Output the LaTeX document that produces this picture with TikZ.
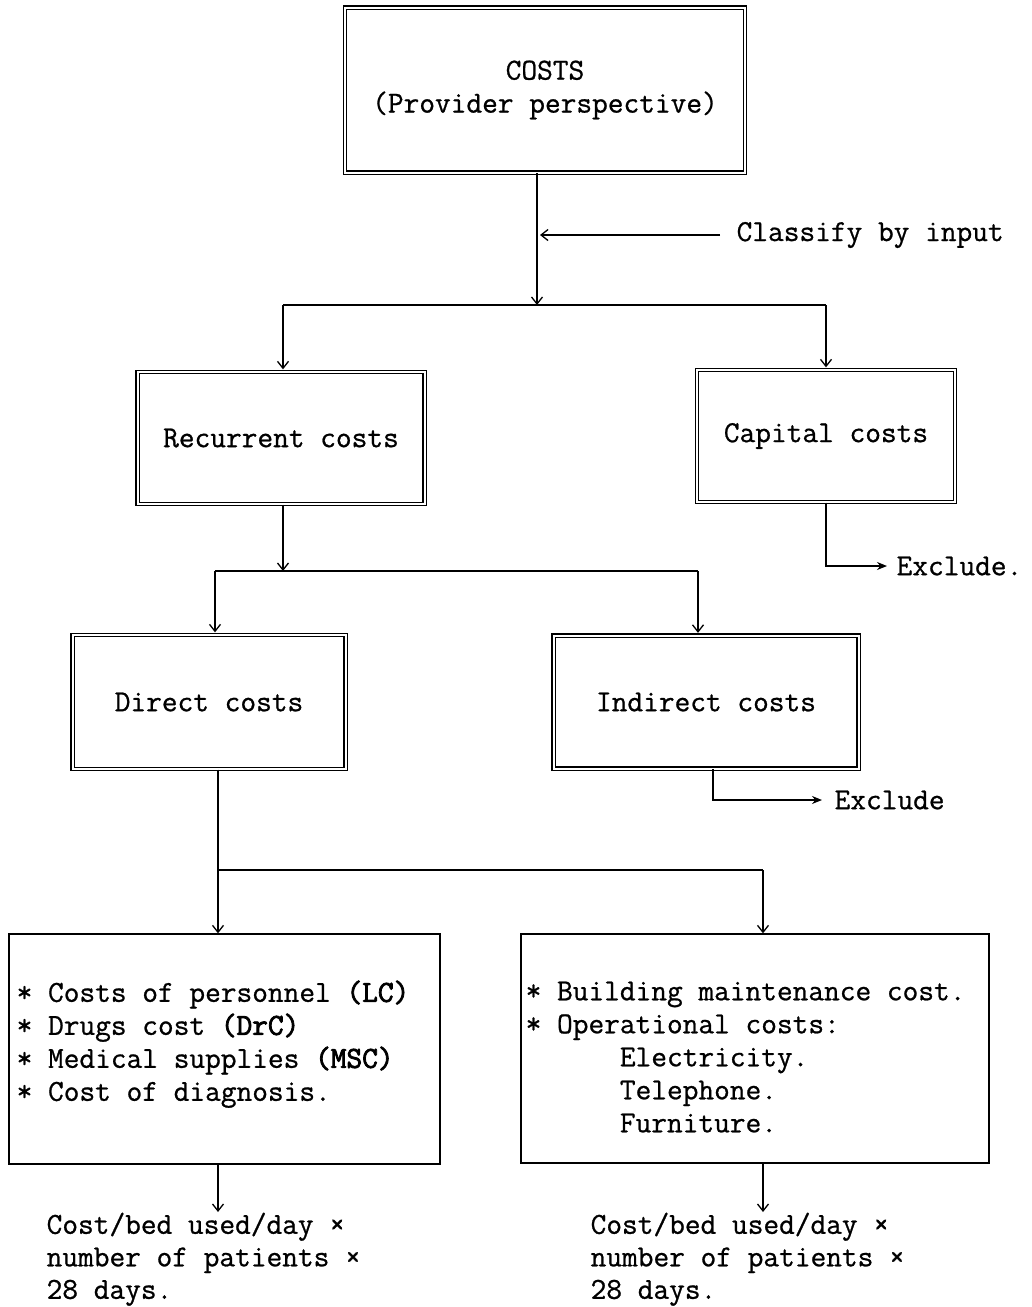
\documentclass[tikz,border=0pt]{standalone}
\usepackage{fontspec}
\newfontfamily\costtt{Latin Modern Mono}[FakeBold=0.8,BoldFont={Latin Modern Mono},BoldFeatures={FakeBold=2.6}]
\usetikzlibrary{arrows.meta}
\newcommand\costfont{\costtt\fontsize{30.5}{33}\selectfont}
\tikzset{
  cbox/.style={draw,line width=1.3pt,double,double distance=2pt,font=\costfont,align=center},
  sbox/.style={draw,line width=1.3pt},
  lbl/.style={font=\costfont,inner sep=0pt,align=left},
  link/.style={line width=1.3pt,-{Straight Barb[length=7pt,width=11pt]}},
  excl/.style={line width=1.3pt,-{Stealth[length=10pt,width=8pt]}}
}
\begin{document}
\begin{tikzpicture}[x=1pt,y=-1pt,line width=1.3pt]
\useasboundingbox (0,0) rectangle (1032,1307);
\node[cbox,minimum width=400,minimum height=165](costs)at(545,90){COSTS\\(Provider perspective)};
\node[cbox,minimum width=287,minimum height=132](rec)at(281,438){Recurrent costs};
\node[cbox,minimum width=258,minimum height=132](cap)at(826,436){Capital costs};
\node[cbox,minimum width=273,minimum height=134](dir)at(209,702){Direct costs};
\node[cbox,minimum width=305,minimum height=133](ind)at(706,702){Indirect costs};
\node[sbox,minimum width=431,minimum height=230](dlist)at(224.5,1049){};
\node[sbox,minimum width=468,minimum height=229](olist)at(755,1048.5){};
\node[lbl,anchor=north west](dtext)at(16,980){* Costs of personnel \textbf{(LC)}\\
* Drugs cost \textbf{(DrC)}\\* Medical supplies \textbf{(MSC)}\\* Cost of diagnosis.};
\node[lbl,anchor=north west](otext)at(525,981){* Building maintenance cost.\\
* Operational costs:\\\phantom{xxxxxx}Electricity.\\\phantom{xxxxxx}Telephone.\\
\phantom{xxxxxx}Furniture.};
\node[lbl,anchor=north west,font=\costtt\fontsize{30.5}{32.5}\selectfont](dnote)at(46,1212){Cost/bed used/day ×\\number of patients ×\\28 days.};
\node[lbl,anchor=north west,font=\costtt\fontsize{30.5}{32.5}\selectfont](onote)at(590,1212){Cost/bed used/day ×\\number of patients ×\\28 days.};
\node[lbl,anchor=west](cls)at(736,235){Classify by input};
\node[lbl,anchor=west](ex1)at(896,566){Exclude.};
\node[lbl,anchor=west](ex2)at(834,800){Exclude};
\coordinate(j1)at(537,305);\coordinate(j1l)at(283,305);\coordinate(j1r)at(826,305);
\coordinate(j2)at(283,571);\coordinate(j2l)at(215,571);\coordinate(j2r)at(698,571);
\coordinate(j3)at(218,870);\coordinate(j3r)at(763,870);
\coordinate(ibend)at(713,803);
\draw[link](costs.south-|j1)--(j1);
\draw(j1l)--(j1r);
\draw[link,shorten >=2pt](j1l)--(rec.north-|j1l);
\draw[link,shorten >=2pt](j1r)--(cap.north-|j1r);
\draw[link,shorten <=16pt,shorten >=3pt](cls.west)--(cls.west-|j1);
\draw[link](rec.south-|j2)--(j2);
\draw(j2l)--(j2r);
\draw[link,shorten >=2pt](j2l)--(dir.north-|j2l);
\draw[link,shorten >=2pt](j2r)--(ind.north-|j2r);
\draw[excl,shorten >=9pt](cap.south)|-(ex1.west);
\draw[excl,shorten >=12pt](ind.south-|ibend)|-(ex2.west);
\draw(dir.south-|j3)--(j3)--(j3r);
\draw[link](j3)--(dlist.north-|j3);
\draw[link](j3r)--(olist.north-|j3r);
\draw[link](dlist.south-|j3)--(j3|-dnote.north);
\draw[link](olist.south-|j3r)--(j3r|-onote.north);
\end{tikzpicture}
\end{document}
